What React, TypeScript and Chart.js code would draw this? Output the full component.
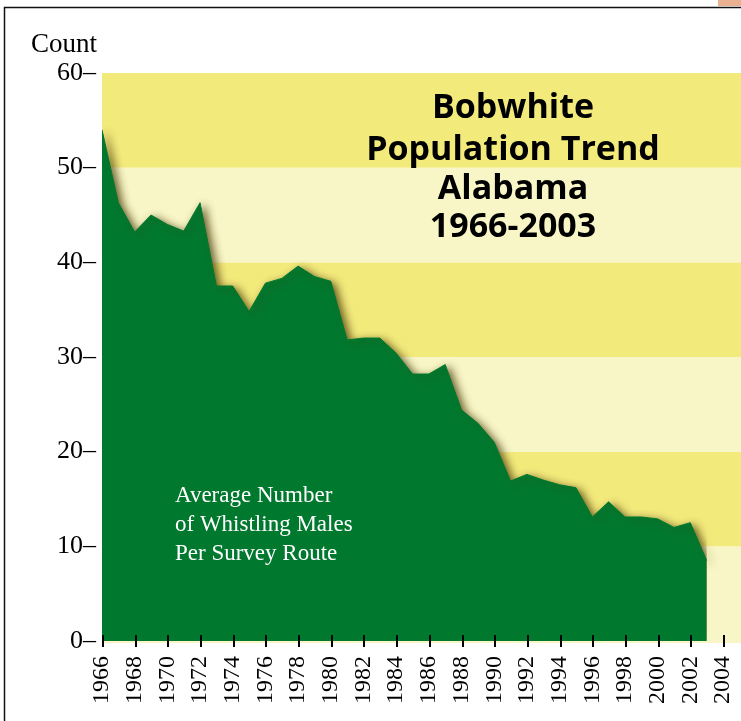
import React, { useEffect, useRef } from "react";
import { Chart, registerables } from "chart.js";

// ---- data ----
const years = [
  1966, 1967, 1968, 1969, 1970, 1971, 1972, 1973, 1974, 1975,
  1976, 1977, 1978, 1979, 1980, 1981, 1982, 1983, 1984, 1985,
  1986, 1987, 1988, 1989, 1990, 1991, 1992, 1993, 1994, 1995,
  1996, 1997, 1998, 1999, 2000, 2001, 2002, 2003,
];
const counts = [
  54.0, 46.3, 43.2, 45.0, 44.0, 43.3, 46.3, 37.5, 37.5, 34.8,
  37.8, 38.3, 39.6, 38.5, 38.0, 31.8, 32.0, 32.0, 30.4, 28.2,
  28.2, 29.2, 24.4, 23.0, 21.0, 16.9, 17.6, 17.0, 16.5, 16.2,
  13.1, 14.7, 13.1, 13.1, 12.9, 12.0, 12.5, 8.5,
];
const yearTicks = [
  1966, 1968, 1970, 1972, 1974, 1976, 1978, 1980, 1982, 1984,
  1986, 1988, 1990, 1992, 1994, 1996, 1998, 2000, 2002, 2004,
];
const countTicks = [0, 10, 20, 30, 40, 50, 60];
const titleLines = ["Bobwhite", "Population Trend", "Alabama", "1966-2003"];
const noteLines = ["Average Number", "of Whistling Males", "Per Survey Route"];
const axisTitle = "Count";

const YELLOW = "#f3ea7c";
const PALE = "#f8f6c6";
const GREEN = "#00792f";
const SERIF = '"Liberation Serif", "DejaVu Serif", serif';

const decorPlugin = {
  id: "bobwhiteDecor",
  beforeDatasetsDraw(chart: any) {
    const { ctx, chartArea, scales } = chart;
    const y = scales.y;
    ctx.save();
    for (let i = 0; i < countTicks.length - 1; i++) {
      const lo = countTicks[i];
      const hi = countTicks[i + 1];
      const top = y.getPixelForValue(hi);
      const bot = y.getPixelForValue(lo);
      ctx.fillStyle = i % 2 === 1 ? YELLOW : PALE;
      ctx.fillRect(chartArea.left, top, chartArea.right - chartArea.left, bot - top + (i === 0 ? 2 : 0));
    }
    ctx.restore();
  },
  beforeDatasetDraw(chart: any) {
    const ctx = chart.ctx;
    ctx.save();
    ctx.shadowColor = "rgba(75,60,10,0.85)";
    ctx.shadowBlur = 9;
    ctx.shadowOffsetX = 4;
    ctx.shadowOffsetY = 3;
  },
  afterDatasetDraw(chart: any) {
    chart.ctx.restore();
  },
  afterDraw(chart: any) {
    const { ctx, chartArea, scales } = chart;
    const x = scales.x;
    ctx.save();
    // x tick marks
    ctx.strokeStyle = "#000";
    ctx.lineWidth = 2;
    for (const v of yearTicks) {
      const px = Math.round(x.getPixelForValue(v)) + 1;
      ctx.beginPath();
      ctx.moveTo(px, chartArea.bottom - 6);
      ctx.lineTo(px, chartArea.bottom + 6);
      ctx.stroke();
    }
    // title
    ctx.fillStyle = "#000";
    ctx.font = 'bold 34px "Open Sans", "Noto Sans", sans-serif';
    ctx.textAlign = "center";
    ctx.textBaseline = "alphabetic";
    const tb = [118, 160, 199, 237];
    titleLines.forEach((t, i) => ctx.fillText(t, 513, tb[i]));
    // note
    ctx.fillStyle = "#ffffff";
    ctx.font = "23px " + SERIF;
    ctx.textAlign = "left";
    const nb = [502, 531, 560];
    noteLines.forEach((t, i) => ctx.fillText(t, 175, nb[i]));
    // axis title
    ctx.fillStyle = "#000";
    ctx.font = "27px " + SERIF;
    ctx.fillText(axisTitle, 31, 52);
    // frame
    ctx.strokeStyle = "#111";
    ctx.lineWidth = 1.5;
    ctx.beginPath();
    ctx.moveTo(4.5, 721);
    ctx.lineTo(4.5, 7.5);
    ctx.lineTo(741, 7.5);
    ctx.stroke();
    ctx.fillStyle = "#e9b190";
    ctx.fillRect(718, 0, 23, 6);
    ctx.restore();
  },
};

Chart.register(decorPlugin as any);
Chart.register(...registerables);

export default function App() {
  const ref = useRef<HTMLCanvasElement | null>(null);
  useEffect(() => {
    document.body.style.margin = "0";
    const canvas = ref.current;
    if (!canvas) return;
    const chart = new Chart(canvas, {
      type: "line",
      data: {
        datasets: [
          {
            data: years.map((yr, i) => ({ x: yr, y: counts[i] })),
            fill: "origin",
            backgroundColor: GREEN,
            borderColor: GREEN,
            borderWidth: 1,
            pointRadius: 0,
            tension: 0,
          },
        ],
      },
      options: {
        responsive: false,
        animation: false,
        layout: { padding: { top: 73, left: 0, right: 0, bottom: 0 } },
        plugins: {
          legend: { display: false },
          tooltip: { enabled: false },
          title: { display: false },
        },
        scales: {
          x: {
            type: "linear",
            min: 1966,
            max: 2005.1,
            grid: { display: false, drawTicks: false },
            border: { display: false },
            afterBuildTicks: (s: any) => {
              s.ticks = yearTicks.map((v) => ({ value: v }));
            },
            afterFit: (s: any) => {
              s.height = 80;
              s.paddingLeft = 0;
              s.paddingRight = 0;
            },
            ticks: {
              autoSkip: false,
              minRotation: 90,
              maxRotation: 90,
              padding: 15,
              color: "#000",
              font: { family: SERIF, size: 24 },
              callback: (v: any) => String(v),
            },
          },
          y: {
            type: "linear",
            min: 0,
            max: 60,
            grid: { display: false, drawTicks: false },
            border: { display: false },
            afterBuildTicks: (s: any) => {
              s.ticks = countTicks.map((v) => ({ value: v }));
            },
            afterFit: (s: any) => {
              s.width = 102;
              s.paddingTop = 0;
              s.paddingBottom = 0;
            },
            ticks: {
              padding: 6,
              color: "#000",
              font: { family: SERIF, size: 26 },
              callback: (v: any) => v + "\u2013",
            },
          },
        },
      },
    } as any);
    return () => chart.destroy();
  }, []);
  return (
    <div style={{ position: "relative", width: 741, height: 721, background: "#fff" }}>
      <canvas ref={ref} width={741} height={721} style={{ display: "block" }} />
    </div>
  );
}
